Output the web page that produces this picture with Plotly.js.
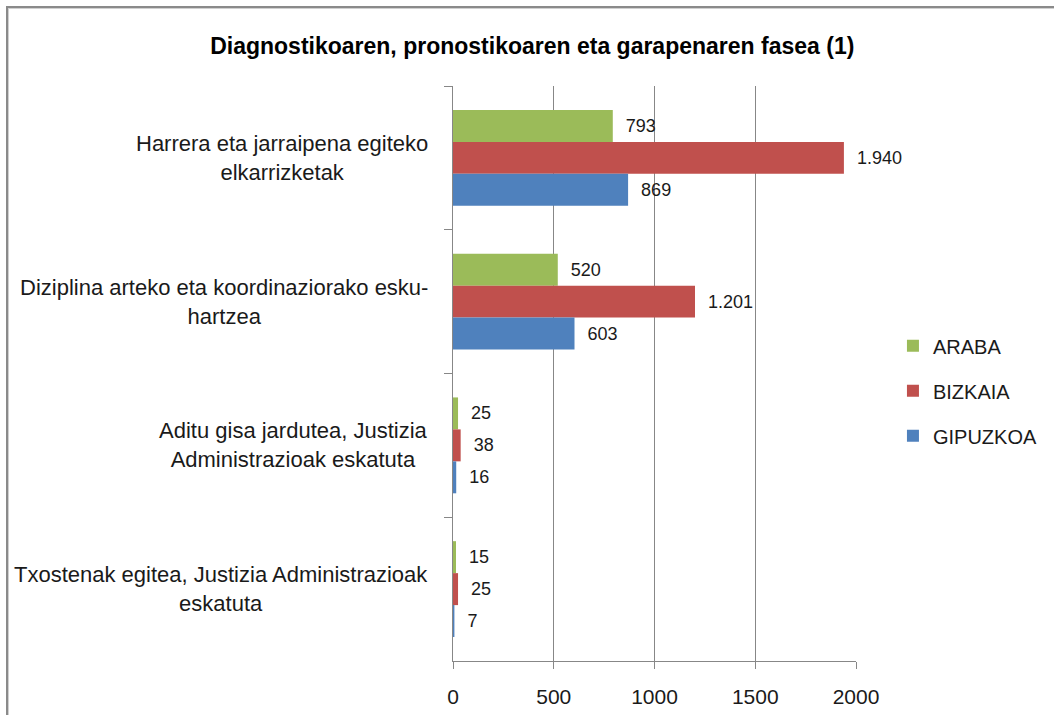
<!DOCTYPE html>
<html>
<head>
<meta charset="utf-8">
<script src="https://cdn.plot.ly/plotly-3.0.1.min.js"></script>
<style>
  html, body { margin: 0; padding: 0; background: #fff; overflow: hidden; }
  #chart { width: 1054px; height: 715px; position: absolute; left: 0; top: 0; }
  #frame { position: absolute; left: 6px; top: 6px; width: 1200px; height: 900px;
           border-left: 2px solid #8a8a8a; border-top: 2px solid #8a8a8a;
           box-shadow: inset 1px 1px 0 #d0d0d0; pointer-events: none; z-index: 5; }
</style>
</head>
<body>
<div id="chart"></div>
<div id="frame"></div>
<script>
const title = 'Diagnostikoaren, pronostikoaren eta garapenaren fasea (1)';
const categories = [
  'Harrera eta jarraipena egiteko<br>elkarrizketak',
  'Diziplina arteko eta koordinaziorako esku-<br>hartzea',
  'Aditu gisa jardutea, Justizia<br>Administrazioak eskatuta',
  'Txostenak egitea, Justizia Administrazioak<br>eskatuta'
];
const seriesNames = ['ARABA', 'BIZKAIA', 'GIPUZKOA'];
const araba    = [793, 520, 25, 15];
const bizkaia  = [1940, 1201, 38, 25];
const gipuzkoa = [869, 603, 16, 7];
const xTicks = [0, 500, 1000, 1500, 2000];

const colors = ['#9BBB59', '#C0504D', '#4F81BD'];
const fmt = v => String(v).replace(/\B(?=(\d{3})+(?!\d))/g, '.');
const FONT = 'Liberation Sans, Arial, sans-serif';
const gray = '#878787';

const seriesVals = [araba, bizkaia, gipuzkoa];
const traces = seriesVals.map((vals, i) => ({
  type: 'bar',
  orientation: 'h',
  name: seriesNames[i],
  legendgroup: seriesNames[i],
  y: categories,
  x: vals,
  text: vals.map(fmt),
  texttemplate: '\u00a0\u00a0%{text}',
  textposition: 'outside',
  cliponaxis: false,
  textfont: { family: FONT, size: 18, color: '#1a1a1a' },
  marker: { color: colors[i], line: { width: 0 } },
  hoverinfo: 'x+name'
}));

const annotations = categories.map(c => ({
  xref: 'paper', yref: 'y',
  x: -0.057, y: c,
  xanchor: 'right', yanchor: 'middle',
  text: c, align: 'center', showarrow: false,
  font: { family: FONT, size: 22, color: '#1a1a1a' }
}));

const layout = {
  width: 1054, height: 715,
  margin: { l: 453, r: 197, t: 86, b: 54, pad: 0 },
  paper_bgcolor: '#fff', plot_bgcolor: '#fff',
  font: { family: FONT, color: '#1a1a1a' },
  title: {
    text: '<b>' + title + '</b>',
    font: { family: FONT, size: 23, color: '#000' },
    xref: 'container', x: 0.505, xanchor: 'center',
    yref: 'container', y: 1 - 46 / 715, yanchor: 'middle'
  },
  barmode: 'group', bargap: 0.333, bargroupgap: 0,
  xaxis: {
    range: [0, 2000], tickvals: xTicks, ticktext: xTicks.map(String),
    showgrid: true, gridcolor: gray, gridwidth: 1,
    showline: true, linecolor: gray, linewidth: 1,
    ticks: 'outside', ticklen: 7, tickcolor: gray,
    ticklabelstandoff: 10,
    tickfont: { family: FONT, size: 21, color: '#1a1a1a' },
    zeroline: false, fixedrange: true
  },
  yaxis: {
    type: 'category', autorange: 'reversed',
    showline: true, linecolor: gray, linewidth: 1,
    ticks: 'outside', tickson: 'boundaries', ticklen: 8, tickcolor: gray,
    showticklabels: false, showgrid: false, zeroline: false, fixedrange: true
  },
  showlegend: true,
  legend: {
    x: 1.089, xanchor: 'left', y: 0.47, yanchor: 'middle',
    traceorder: 'grouped', tracegroupgap: 16,
    font: { family: FONT, size: 20, color: '#1a1a1a' },
    bgcolor: 'rgba(0,0,0,0)'
  },
  annotations: annotations
};

Plotly.newPlot('chart', traces, layout, { displayModeBar: false, staticPlot: true });
</script>
</body>
</html>
